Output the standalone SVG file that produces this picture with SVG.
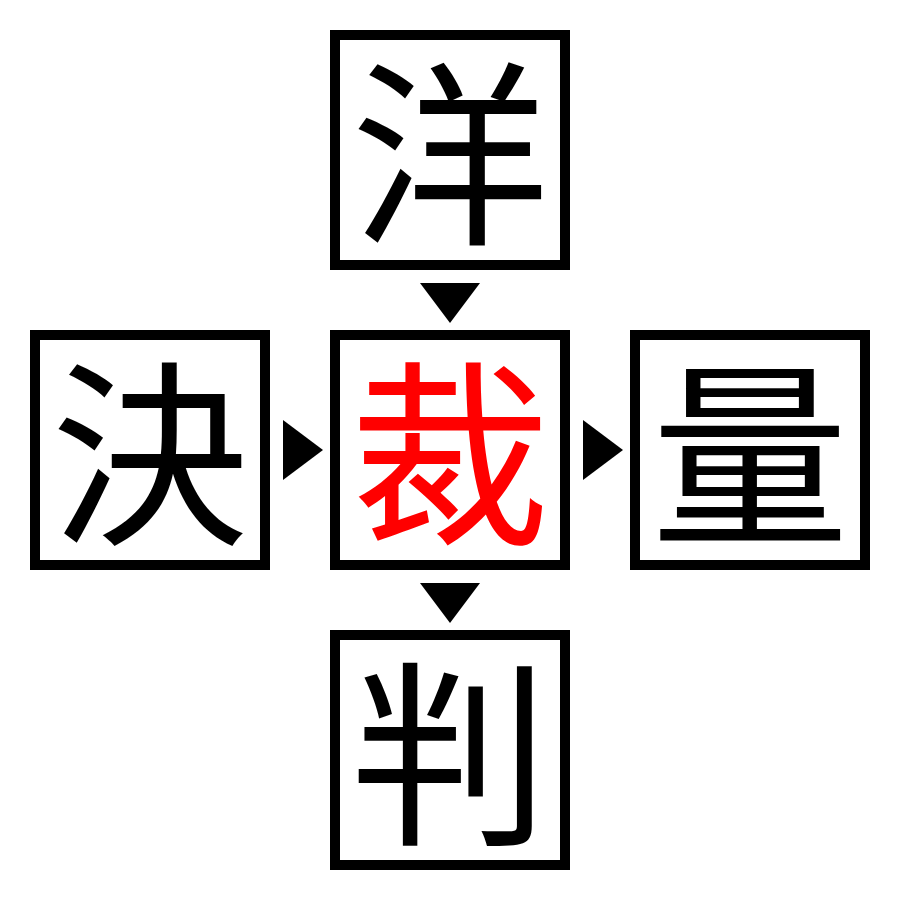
<svg xmlns="http://www.w3.org/2000/svg" width="900" height="900" viewBox="0 0 900 900">
<style>
.box{fill:#fff;stroke:#000;stroke-width:10}
.ch{font-family:"Noto Sans CJK JP","Noto Sans CJK SC",sans-serif;font-size:198px;text-anchor:middle;dominant-baseline:central;fill:#000}
.red{fill:#ff0000}
.arr{fill:#000}
</style>
<rect width="900" height="900" fill="#fff"/>
<g id="node-top"><rect class="box" x="335" y="35" width="230" height="230"/><text class="ch" x="450" y="142">洋</text></g>
<g id="node-left"><rect class="box" x="35" y="335" width="230" height="230"/><text class="ch" x="150" y="442">決</text></g>
<g id="node-center"><rect class="box" x="335" y="335" width="230" height="230"/><text class="ch red" x="450" y="442">裁</text></g>
<g id="node-right"><rect class="box" x="635" y="335" width="230" height="230"/><text class="ch" x="750" y="442">量</text></g>
<g id="node-bottom"><rect class="box" x="335" y="635" width="230" height="230"/><text class="ch" x="450" y="742">判</text></g>
<g id="connectors">
<polygon class="arr" points="420,283 480,283 450,323"/>
<polygon class="arr" points="283,420 283,480 323,450"/>
<polygon class="arr" points="583,420 583,480 623,450"/>
<polygon class="arr" points="420,583 480,583 450,623"/>
</g>
</svg>
